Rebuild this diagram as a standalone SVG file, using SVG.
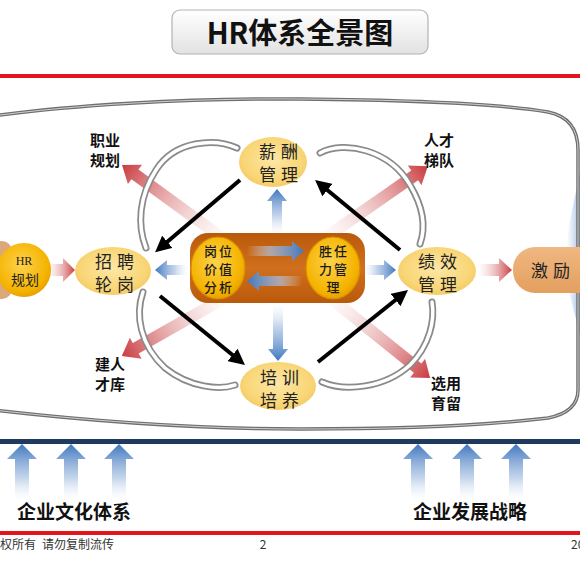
<svg xmlns="http://www.w3.org/2000/svg" width="580" height="580" viewBox="0 0 580 580">
<defs>
<linearGradient id="titleG" x1="0" y1="0" x2="0" y2="1"><stop offset="0" stop-color="#ffffff"/><stop offset="1" stop-color="#e2e2e2"/></linearGradient>
<linearGradient id="redG" x1="0" y1="0" x2="1" y2="0"><stop offset="0" stop-color="#f2c4c4" stop-opacity="0"/><stop offset="0.45" stop-color="#e29a9a" stop-opacity="0.55"/><stop offset="1" stop-color="#c93a3f"/></linearGradient>
<linearGradient id="blueG" x1="0" y1="0" x2="1" y2="0"><stop offset="0" stop-color="#dfe8f4" stop-opacity="0"/><stop offset="0.4" stop-color="#a9c2e2" stop-opacity="0.7"/><stop offset="1" stop-color="#3f77c0"/></linearGradient>
<radialGradient id="nodeG" cx="0.5" cy="0.45" r="0.6"><stop offset="0" stop-color="#fde7a6"/><stop offset="0.7" stop-color="#f9d677"/><stop offset="1" stop-color="#f3c862"/></radialGradient>
<radialGradient id="goldG" cx="0.45" cy="0.4" r="0.65"><stop offset="0" stop-color="#fdd24c"/><stop offset="0.75" stop-color="#f5b300"/><stop offset="1" stop-color="#e39a00"/></radialGradient>
<linearGradient id="brownG" x1="0" y1="0" x2="0" y2="1"><stop offset="0" stop-color="#b9590a"/><stop offset="0.5" stop-color="#d0701e"/><stop offset="1" stop-color="#b9590a"/></linearGradient>
<linearGradient id="jlG" x1="0" y1="0" x2="0" y2="1"><stop offset="0" stop-color="#f0b882"/><stop offset="1" stop-color="#e39f5e"/></linearGradient>
<linearGradient id="sideG" x1="0" y1="0" x2="1" y2="0"><stop offset="0" stop-color="#c9d9ee" stop-opacity="0"/><stop offset="1" stop-color="#9fbde2"/></linearGradient>
<marker id="blk" viewBox="0 0 10 10" refX="6" refY="5" markerWidth="4" markerHeight="4" orient="auto"><path d="M0,0 L10,5 L0,10 z" fill="#000"/></marker>
<style>
.red{fill:url(#redG)}
.blue{fill:url(#blueG)}
.node{fill:url(#nodeG)}
.gold{fill:url(#goldG);stroke:#d88c00;stroke-width:1.2}
.nt{font-family:"Noto Sans CJK SC","Noto Sans",sans-serif;font-size:17px;fill:#222;text-anchor:middle;letter-spacing:5px}
.ct{font-family:"Noto Sans CJK SC","Noto Sans",sans-serif;font-size:13px;font-weight:500;fill:#1a1a1a;text-anchor:middle;letter-spacing:2px}
.lb{font-family:"Noto Sans CJK SC","Noto Sans",sans-serif;font-size:15px;font-weight:700;fill:#111;text-anchor:middle}
.bt{font-family:"Noto Sans CJK SC","Noto Sans",sans-serif;font-size:19px;font-weight:700;fill:#111;text-anchor:middle}
.ft{font-family:"Noto Sans CJK SC","Noto Sans",sans-serif;font-size:12px;fill:#333}
.blk{stroke:#000;stroke-width:4;fill:none;marker-end:url(#blk)}
.g1{fill:none;stroke:#8a8a8a;stroke-width:7;stroke-linecap:round}
.g2{fill:none;stroke:#ffffff;stroke-width:3.5;stroke-linecap:round}
</style>
</defs>

<!-- title -->
<g id="title">
<rect x="172" y="10" width="256" height="44" rx="8" fill="url(#titleG)" stroke="#b3b3b3" stroke-width="1.2"/>
<text x="300" y="44" font-family="'Noto Sans CJK SC','Noto Sans',sans-serif" font-size="29" font-weight="700" fill="#111" text-anchor="middle">HR体系全景图</text>
</g>
<rect x="0" y="74" width="580" height="4" fill="#e3141b"/>

<!-- big outline -->
<g id="frame">
<polygon points="580,172 569,225 566,255 569,292 580,335" fill="url(#sideG)"/>
<path d="M -40,121 C 60,104 200,98 300,99 C 420,100 500,104 548,112 Q 578,118 578,150 L 578,390 Q 578,412 548,418 C 480,426 400,429 300,429 C 200,429 80,421 -40,406" fill="none" stroke="#6f6f6f" stroke-width="3.5"/>
<path d="M -40,121 C 60,104 200,98 300,99 C 420,100 500,104 548,112 Q 578,118 578,150 L 578,390 Q 578,412 548,418 C 480,426 400,429 300,429 C 200,429 80,421 -40,406" fill="none" stroke="#cfcfcf" stroke-width="1"/>
</g>

<!-- connectors -->
<g id="connectors">
<polygon class="red" points="0,-6 115,-6 115,-12 131,0 115,12 115,6 0,6" transform="translate(228,242) rotate(-144)"/>
<polygon class="red" points="0,-6 113,-6 113,-12 129,0 113,12 113,6 0,6" transform="translate(322,240) rotate(-34.9)"/>
<polygon class="red" points="0,-6 106,-6 106,-12 122,0 106,12 106,6 0,6" transform="translate(228,296) rotate(150.5)"/>
<polygon class="red" points="0,-6 115,-6 115,-12 131,0 115,12 115,6 0,6" transform="translate(328,296) rotate(38.8)"/>
<polygon class="red" points="0,-6 16,-6 16,-12 28,0 16,12 16,6 0,6" transform="translate(47,270)"/>
<polygon class="red" points="0,-6 21,-6 21,-12 34,0 21,12 21,6 0,6" transform="translate(478,270)"/>
<path class="g1" d="M 237,148 C 215,138 175,140 156,170 C 139,196 137,225 146,248"/>
<path class="g2" d="M 237,148 C 215,138 175,140 156,170 C 139,196 137,225 146,248"/>
<path class="g1" d="M 320,153 C 345,140 390,150 410,185 C 425,210 425,230 420,244"/>
<path class="g2" d="M 320,153 C 345,140 390,150 410,185 C 425,210 425,230 420,244"/>
<path class="g1" d="M 143,292 C 135,315 140,345 165,368 C 190,388 220,390 235,385"/>
<path class="g2" d="M 143,292 C 135,315 140,345 165,368 C 190,388 220,390 235,385"/>
<path class="g1" d="M 322,382 C 345,392 385,388 410,365 C 430,345 435,320 432,302"/>
<path class="g2" d="M 322,382 C 345,392 385,388 410,365 C 430,345 435,320 432,302"/>
<polygon class="blue" points="0,-5 33,-5 33,-10 45,0 33,10 33,5 0,5" transform="translate(277,234) rotate(-90)"/>
<polygon class="blue" points="0,-5 45,-5 45,-10 57,0 45,10 45,5 0,5" transform="translate(278,304) rotate(90)"/>
<polygon class="blue" points="0,-5 21,-5 21,-10 33,0 21,10 21,5 0,5" transform="translate(188,270) rotate(180)"/>
<polygon class="blue" points="0,-5 20,-5 20,-10 32,0 20,10 20,5 0,5" transform="translate(364,270)"/>
<line class="blk" x1="240" y1="180" x2="160" y2="248"/>
<line class="blk" x1="160" y1="296" x2="240" y2="361"/>
<line class="blk" x1="318" y1="362" x2="403" y2="294"/>
<line class="blk" x1="400" y1="250" x2="320" y2="184"/>
</g>

<!-- nodes -->
<g id="hr">
<rect x="-30" y="241" width="42" height="58" rx="10" fill="#dba87c"/>
<circle cx="24" cy="270" r="27" fill="url(#goldG)"/>
<text x="24" y="265" font-family="'Liberation Serif',serif" font-size="12" fill="#222" text-anchor="middle">HR</text>
<text x="25" y="285" font-family="'Noto Sans CJK SC',sans-serif" font-size="14" fill="#222" text-anchor="middle">规划</text>
</g>
<g id="xinchou">
<ellipse cx="273" cy="162" rx="34" ry="25" class="node"/>
<text class="nt" x="281" y="158">薪酬</text>
<text class="nt" x="281" y="181">管理</text>
</g>
<g id="zhaopin">
<ellipse cx="113" cy="271" rx="38" ry="24" class="node"/>
<text class="nt" x="117" y="268">招聘</text>
<text class="nt" x="117" y="291">轮岗</text>
</g>
<g id="jixiao">
<ellipse cx="437" cy="271" rx="39" ry="24" class="node"/>
<text class="nt" x="440" y="268">绩效</text>
<text class="nt" x="440" y="291">管理</text>
</g>
<g id="peixun">
<ellipse cx="278" cy="386" rx="38" ry="24" class="node"/>
<text class="nt" x="282" y="384">培训</text>
<text class="nt" x="282" y="407">培养</text>
</g>
<g id="jili">
<rect x="513" y="247" width="90" height="46" rx="22" fill="url(#jlG)"/>
<text class="nt" x="553" y="277" font-size="19" letter-spacing="1">激励</text>
</g>
<g id="center">
<rect x="190" y="233" width="175" height="70" rx="18" fill="url(#brownG)"/>
<polygon class="blue" points="0,-5 45,-5 45,-10 57,0 45,10 45,5 0,5" transform="translate(247,251)"/>
<polygon class="blue" points="0,-5 43,-5 43,-10 55,0 43,10 43,5 0,5" transform="translate(302,281) rotate(180)"/>
<g id="gangwei">
<ellipse cx="218" cy="268" rx="27" ry="31" class="gold"/>
<text class="ct" x="219" y="256">岗位</text>
<text class="ct" x="219" y="274">价值</text>
<text class="ct" x="219" y="292">分析</text>
</g>
<g id="shengren">
<ellipse cx="333" cy="268" rx="27" ry="31" class="gold"/>
<text class="ct" x="334" y="256">胜任</text>
<text class="ct" x="334" y="274">力管</text>
<text class="ct" x="334" y="292">理</text>
</g>
</g>

<!-- labels -->
<g id="labels">
<text class="lb" x="105" y="146">职业</text>
<text class="lb" x="105" y="166">规划</text>
<text class="lb" x="439" y="146">人才</text>
<text class="lb" x="439" y="166">梯队</text>
<text class="lb" x="110" y="370">建人</text>
<text class="lb" x="110" y="390">才库</text>
<text class="lb" x="446" y="389">选用</text>
<text class="lb" x="446" y="409">育留</text>
</g>

<!-- base -->
<g id="base">
<rect x="0" y="439" width="580" height="5" fill="#1e3a5c"/>
<polygon class="blue" points="0,-7 41,-7 41,-15 56,0 41,15 41,7 0,7" transform="translate(22,500) rotate(-90)"/>
<polygon class="blue" points="0,-7 41,-7 41,-15 56,0 41,15 41,7 0,7" transform="translate(71,500) rotate(-90)"/>
<polygon class="blue" points="0,-7 41,-7 41,-15 56,0 41,15 41,7 0,7" transform="translate(119,500) rotate(-90)"/>
<polygon class="blue" points="0,-7 41,-7 41,-15 56,0 41,15 41,7 0,7" transform="translate(418,500) rotate(-90)"/>
<polygon class="blue" points="0,-7 41,-7 41,-15 56,0 41,15 41,7 0,7" transform="translate(467,500) rotate(-90)"/>
<polygon class="blue" points="0,-7 41,-7 41,-15 56,0 41,15 41,7 0,7" transform="translate(516,500) rotate(-90)"/>
<text class="bt" x="74" y="519">企业文化体系</text>
<text class="bt" x="470" y="519">企业发展战略</text>
</g>
<rect x="0" y="531" width="580" height="4" fill="#e3141b"/>
<g id="footer">
<text class="ft" x="0" y="549">权所有</text>
<text class="ft" x="42" y="549">请勿复制流传</text>
<text class="ft" x="263" y="549" text-anchor="middle">2</text>
<text class="ft" x="571" y="549">20</text>
</g>
</svg>
